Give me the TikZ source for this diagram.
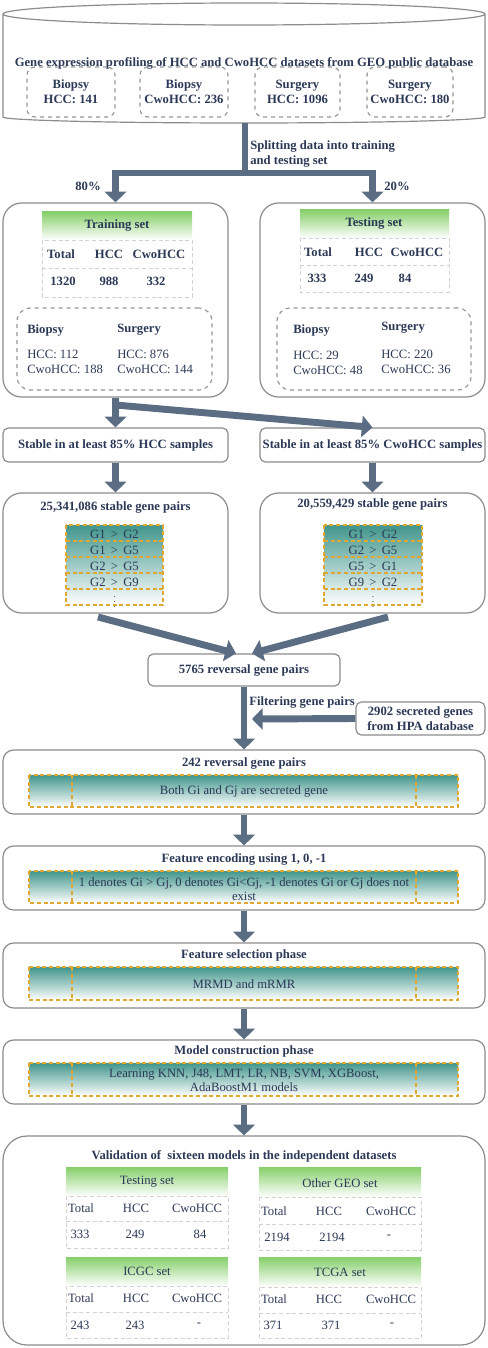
\documentclass[tikz,border=0pt]{standalone}
\usepackage{fontspec}
\setmainfont{Liberation Serif}
\usetikzlibrary{arrows.meta}
\definecolor{txt}{HTML}{2B3856}
\definecolor{arw}{HTML}{5B6D82}
\definecolor{frame}{HTML}{8C8C8C}
\definecolor{hdgreen}{HTML}{86CF6A}
\definecolor{tealc}{HTML}{41968C}
\definecolor{odash}{HTML}{E0A830}
\definecolor{gridc}{HTML}{D8D0CC}
\begin{document}
\begin{tikzpicture}[x=0.75pt,y=-0.75pt,
    every node/.style={font=\fontsize{9.5}{11.5}\selectfont,text=txt,inner sep=0pt},
    bold/.style={font=\fontsize{9.5}{11.5}\selectfont\bfseries},
    sz/.style 2 args={minimum width=#1*0.75pt,minimum height=#2*0.75pt},
    panel/.style={draw=frame,line width=0.9pt,rounded corners=11pt},
    smallpanel/.style={draw=frame,line width=0.9pt,rounded corners=4pt},
    dashbox/.style={draw=frame!90,line width=0.9pt,dashed,rounded corners=6pt},
    griddash/.style={draw=gridc,line width=0.6pt,dash pattern=on 3pt off 2pt},
    odashed/.style={draw=odash,line width=0.9pt,dash pattern=on 3pt off 2pt},
    pipe/.style={draw=arw,line width=5.2pt},
    flow/.style={draw=arw,line width=5.2pt,-{Triangle[width=16pt,length=8pt]}}]
  \useasboundingbox (0,0) rectangle (488,1348);
  % database
  \draw[draw=frame,line width=0.9pt] (3,14)--(3,117) arc[start angle=180,end angle=0,x radius=241,y radius=6]--(485,14);
  \draw[draw=frame,line width=0.9pt] (244,14) ellipse [x radius=241,y radius=11];
  \coordinate (db) at (245,123);
  \node[bold] (dbt) at (244,63) {Gene expression profiling of HCC and CwoHCC datasets from GEO public database};
  \node[dashbox,sz={88}{50}] (d1) at (71,92) {};
  \node[dashbox,sz={88}{50}] (d2) at (184,92) {};
  \node[dashbox,sz={85}{50}] (d3) at (297.5,92) {};
  \node[dashbox,sz={86}{50}] (d4) at (410,92) {};
  \node[bold,align=center] (d1t) at (d1) {Biopsy\\HCC: 141};
  \node[bold,align=center] (d2t) at (d2) {Biopsy\\CwoHCC: 236};
  \node[bold,align=center] (d3t) at (d3) {Surgery\\HCC: 1096};
  \node[bold,align=center] (d4t) at (d4) {Surgery\\CwoHCC: 180};
  % training / testing
  \node[panel,rounded corners=14pt,sz={225}{194}] (train) at (115.5,300) {};
  \node[panel,rounded corners=14pt,sz={225}{194}] (test) at (372.5,300) {};
  \coordinate (split) at (245,173);
  \draw[pipe] (db)--(split);
  \draw[flow] (split)-|(train.north);
  \draw[flow] (split)-|(test.north);
  \node[bold,align=left,anchor=west] (splt) at (250,154) {Splitting data into training\\and testing set};
  \node[bold] (p80) at (88,186) {80\%};
  \node[bold] (p20) at (397,186) {20\%};
  \shade[top color=hdgreen,bottom color=white] (42,212) rectangle (192,240);
  \draw[griddash] (42,240) rectangle (192,297) (42,268)--(192,268);
  \node[bold] (trh) at (117,226) {Training set};
  \node[bold] (tr1) at (61,254) {Total};
  \node[bold] (tr2) at (109,254) {HCC};
  \node[bold] (tr3) at (159,254) {CwoHCC};
  \node[bold] (tr4) at (63,281) {1320};
  \node[bold] (tr5) at (109,281) {988};
  \node[bold] (tr6) at (156,281) {332};
  \node[dashbox,rounded corners=10pt,sz={195}{82}] (trb) at (114.5,349) {};
  \node[bold,anchor=west] (trb1) at (27,330) {Biopsy};
  \node[bold,anchor=west] (trb2) at (117,330) {Surgery};
  \node[align=left,anchor=west] (trb3) at (27,362) {HCC: 112\\CwoHCC: 188};
  \node[align=left,anchor=west] (trb4) at (117,362) {HCC: 876\\CwoHCC: 144};
  \shade[top color=hdgreen,bottom color=white] (300,210) rectangle (449,238);
  \draw[griddash] (300,238) rectangle (449,292) (300,265)--(449,265);
  \node[bold] (teh) at (374,224) {Testing set};
  \node[bold] (te1) at (318,252) {Total};
  \node[bold] (te2) at (369,252) {HCC};
  \node[bold] (te3) at (417,252) {CwoHCC};
  \node[bold] (te4) at (317,278) {333};
  \node[bold] (te5) at (364,278) {249};
  \node[bold] (te6) at (405,278) {84};
  \node[dashbox,rounded corners=10pt,sz={194}{82}] (teb) at (374,349) {};
  \node[bold,anchor=west] (teb1) at (293,330) {Biopsy};
  \node[bold,anchor=west] (teb2) at (381,328) {Surgery};
  \node[align=left,anchor=west] (teb3) at (293,363) {HCC: 29\\CwoHCC: 48};
  \node[align=left,anchor=west] (teb4) at (381,362) {HCC: 220\\CwoHCC: 36};
  % stable pairs
  \node[smallpanel,sz={225}{34},bold] (stabL) at (115.5,445) {Stable in at least 85\% HCC samples};
  \node[smallpanel,sz={225}{34},bold] (stabR) at (372.5,445) {Stable in at least 85\% CwoHCC samples};
  \coordinate (fork) at (115.5,405);
  \draw[flow] (train.south)--(stabL.north);
  \draw[flow] (fork)--(stabR.north);
  \node[panel,rounded corners=14pt,sz={225}{120}] (pairL) at (115.5,553) {};
  \node[panel,rounded corners=14pt,sz={225}{120}] (pairR) at (372.5,553) {};
  \draw[flow] (stabL.south)--(pairL.north);
  \draw[flow] (stabR.south)--(pairR.north);
  \node[bold] (pLt) at (115.5,507) {25,341,086 stable gene pairs};
  \node[bold] (pRt) at (372.5,504) {20,559,429 stable gene pairs};
  \shade[top color=tealc,bottom color=white] (66,525) rectangle (163,605);
  \draw[odashed] (66,525) rectangle (163,605) (66,541)--(163,541) (66,557)--(163,557) (66,573)--(163,573) (66,589)--(163,589);
  \node (gl1) at (114.5,534) {G1 \,>\, G2};
  \node (gl2) at (114.5,550) {G1 \,>\, G5};
  \node (gl3) at (114.5,566) {G2 \,>\, G5};
  \node (gl4) at (114.5,582) {G2 \,>\, G9};
  \node[font=\fontsize{7}{7}\selectfont] (gl5) at (114.5,598) {$\vdots$};
  \shade[top color=tealc,bottom color=white] (324,525) rectangle (422,605);
  \draw[odashed] (324,525) rectangle (422,605) (324,541)--(422,541) (324,557)--(422,557) (324,573)--(422,573) (324,589)--(422,589);
  \node (gr1) at (373,534) {G1 \,>\, G2};
  \node (gr2) at (373,550) {G2 \,>\, G5};
  \node (gr3) at (373,566) {G5 \,>\, G1};
  \node (gr4) at (373,582) {G9 \,>\, G2};
  \node[font=\fontsize{7}{7}\selectfont] (gr5) at (373,598) {$\vdots$};
  % reversal pairs
  \node[smallpanel,sz={192}{32},bold] (rev) at (244,670) {5765 reversal gene pairs};
  \coordinate (outL) at (98,617);
  \coordinate (outR) at (388,617);
  \draw[flow] (outL)--([xshift=-6pt]rev.north);
  \draw[flow] (outR)--([xshift=6pt]rev.north);
  \node[smallpanel,sz={129}{33},bold,align=center] (hpa) at (420.5,718.5) {2902 secreted genes\\from HPA database};
  \node[panel,rounded corners=8pt,sz={482}{64}] (sec) at (244,782) {};
  \draw[flow] (rev.south)--(sec.north);
  \coordinate (fjoin) at (252,719);
  \draw[flow] (hpa.west)--(fjoin);
  \node[bold,anchor=west] (filt) at (249,702) {Filtering gene pairs};
  \node[bold] (sect) at (244,763) {242 reversal gene pairs};
  \shade[top color=tealc,bottom color=white] (29,775) rectangle (458,807);
  \draw[odashed] (29,775) rectangle (458,807) (72,775)--(72,807) (416,775)--(416,807);
  \node (secb) at (244,791) {Both Gi and Gj are secreted gene};
  % encoding
  \node[panel,rounded corners=8pt,sz={482}{64}] (enc) at (244,878) {};
  \draw[flow] (sec.south)--(enc.north);
  \node[bold] (enct) at (244,859) {Feature encoding using 1, 0, -1};
  \shade[top color=tealc,bottom color=white] (29,871) rectangle (458,903);
  \draw[odashed] (29,871) rectangle (458,903) (72,871)--(72,903) (416,871)--(416,903);
  \node[align=center,font=\fontsize{9.5}{10.5}\selectfont] (encb) at (244,889) {1 denotes Gi > Gj, 0 denotes Gi<Gj, -1 denotes Gi or Gj does not\\exist};
  % selection
  \node[panel,rounded corners=8pt,sz={482}{65}] (sel) at (244,975.5) {};
  \draw[flow] (enc.south)--(sel.north);
  \node[bold] (selt) at (244,955) {Feature selection phase};
  \shade[top color=tealc,bottom color=white] (29,967) rectangle (458,1000);
  \draw[odashed] (29,967) rectangle (458,1000) (72,967)--(72,1000) (416,967)--(416,1000);
  \node (selb) at (244,984) {MRMD and mRMR};
  % model
  \node[panel,rounded corners=8pt,sz={482}{64}] (mod) at (244,1072) {};
  \draw[flow] (sel.south)--(mod.north);
  \node[bold] (modt) at (244,1051) {Model construction phase};
  \shade[top color=tealc,bottom color=white] (29,1063) rectangle (458,1096);
  \draw[odashed] (29,1063) rectangle (458,1096) (72,1063)--(72,1096) (416,1063)--(416,1096);
  \node[align=center,font=\fontsize{9.5}{10.5}\selectfont] (modb) at (244,1080.5) {Learning KNN, J48, LMT, LR, NB, SVM, XGBoost,\\AdaBoostM1 models};
  % validation
  \node[panel,rounded corners=18pt,sz={482}{209}] (val) at (244,1240.5) {};
  \draw[flow] (mod.south)--(val.north);
  \node[bold] (valt) at (244,1156) {Validation of ~sixteen models in the independent datasets};
  \shade[top color=hdgreen,bottom color=white] (66,1167) rectangle (228,1196);
  \draw[griddash] (66,1196) rectangle (228,1248) (66,1221)--(228,1221);
  \node (v1h) at (147,1182) {Testing set};
  \node (v11) at (81,1208) {Total};
  \node (v12) at (136,1208) {HCC};
  \node (v13) at (197,1208) {CwoHCC};
  \node (v14) at (80,1234) {333};
  \node (v15) at (135,1234) {249};
  \node (v16) at (200,1234) {84};
  \shade[top color=hdgreen,bottom color=white] (259,1167) rectangle (421,1197);
  \draw[griddash] (259,1197) rectangle (421,1250) (259,1224)--(421,1224);
  \node (v2h) at (340,1183) {Other GEO set};
  \node (v21) at (274,1211) {Total};
  \node (v22) at (329,1211) {HCC};
  \node (v23) at (391,1211) {CwoHCC};
  \node (v24) at (277,1237) {2194};
  \node (v25) at (332,1237) {2194};
  \node (v26) at (389,1237) {-};
  \shade[top color=hdgreen,bottom color=white] (66,1257) rectangle (228,1286);
  \draw[griddash] (66,1286) rectangle (228,1338) (66,1312)--(228,1312);
  \node (v3h) at (147,1271) {ICGC set};
  \node (v31) at (81,1298) {Total};
  \node (v32) at (136,1298) {HCC};
  \node (v33) at (197,1298) {CwoHCC};
  \node (v34) at (80,1325) {243};
  \node (v35) at (135,1325) {243};
  \node (v36) at (199,1325) {-};
  \shade[top color=hdgreen,bottom color=white] (259,1257) rectangle (421,1287);
  \draw[griddash] (259,1287) rectangle (421,1338) (259,1313)--(421,1313);
  \node (v4h) at (340,1272) {TCGA set};
  \node (v41) at (274,1299) {Total};
  \node (v42) at (329,1299) {HCC};
  \node (v43) at (391,1299) {CwoHCC};
  \node (v44) at (273,1325) {371};
  \node (v45) at (331,1325) {371};
  \node (v46) at (392,1325) {-};
\end{tikzpicture}
\end{document}
